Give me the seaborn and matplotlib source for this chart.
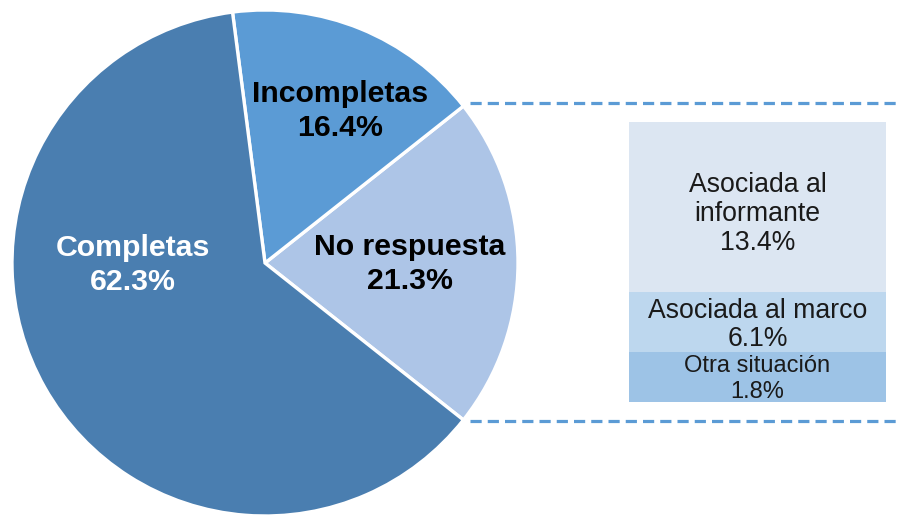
import matplotlib
matplotlib.use("Agg")
import matplotlib.pyplot as plt
from matplotlib.lines import Line2D
import seaborn as sns

# ---- data ----
pie_labels = ["No respuesta", "Incompletas", "Completas"]
pie_values = [21.3, 16.4, 62.3]
pie_colors = ["#adc5e7", "#5b9bd5", "#4a7eb0"]
pie_text_colors = ["black", "black", "white"]

sub_labels = ["Otra situación", "Asociada al marco", "Asociada al\ninformante"]
sub_values = [1.8, 6.1, 13.4]
# heights as drawn in the reference (small segments enlarged to fit labels)
sub_display = [3.8, 4.6, 12.9]
sub_colors = ["#9dc3e6", "#bdd7ee", "#dce6f2"]

sns.set_theme(style="white")
plt.rcParams["font.family"] = ["Liberation Sans", "DejaVu Sans"]

W, H = 899, 515
fig = plt.figure(figsize=(W / 100, H / 100), dpi=100)

def fx(px):
    return px / W

def fy(py):
    return 1 - py / H

# ---- pie ----
cx, cy, r = 265, 263, 253
ax = fig.add_axes([fx(cx - r), fy(cy + r), 2 * r / W, 2 * r / H])
start = -pie_values[0] / 100 * 360 / 2
wedges, _ = ax.pie(pie_values, colors=pie_colors, startangle=start,
                   counterclock=True,
                   wedgeprops=dict(edgecolor="white", linewidth=2.4))
ax.set_xlim(-1, 1)
ax.set_ylim(-1, 1)
ax.set_aspect("equal")
ax.axis("off")

label_pos = {"No respuesta": (410, 264), "Incompletas": (340, 111), "Completas": (133, 265)}
for lab, val, tc in zip(pie_labels, pie_values, pie_text_colors):
    px, py = label_pos[lab]
    fig.text(fx(px), fy(py), f"{lab}\n{val:.1f}%", ha="center", va="center",
             fontsize=21.8, fontweight="bold", color=tc, linespacing=1.3)

# ---- stacked bar ----
bx0, bx1, by0, by1 = 629, 886, 122, 402
bax = fig.add_axes([fx(bx0), fy(by1), (bx1 - bx0) / W, (by1 - by0) / H])
cum = []
s = 0
for d in sub_display:
    s += d
    cum.append(s)
for i in reversed(range(3)):
    sns.barplot(x=[0], y=[cum[i]], color=sub_colors[i], saturation=1,
                width=1.0, ax=bax, edgecolor="none", linewidth=0)
bax.set_xlim(-0.5, 0.5)
bax.set_ylim(0, cum[-1])
bax.axis("off")

bottoms = [0] + cum[:-1]
sizes = [17, 19.2, 19.2]
spacings = [1.22, 1.1, 1.14]
offsets = [-1.5, -2.2, -5.0]
for lab, val, b, d, fs, ls, off in zip(sub_labels, sub_values, bottoms, sub_display,
                                       sizes, spacings, offsets):
    bax.annotate(f"{lab}\n{val:.1f}%", xy=(0, b + d / 2), xytext=(0, off),
                 textcoords="offset points", ha="center", va="center",
                 fontsize=fs, color="#1a1a1a", linespacing=ls)

# ---- connector lines ----
for py in (103, 421):
    fig.add_artist(Line2D([fx(470), fx(899)], [fy(py), fy(py)],
                          color="#5b9bd5", linewidth=2.3,
                          linestyle=(0, (3.5, 1.9)), transform=fig.transFigure))

fig.savefig("out.png", dpi=100, facecolor="white")
